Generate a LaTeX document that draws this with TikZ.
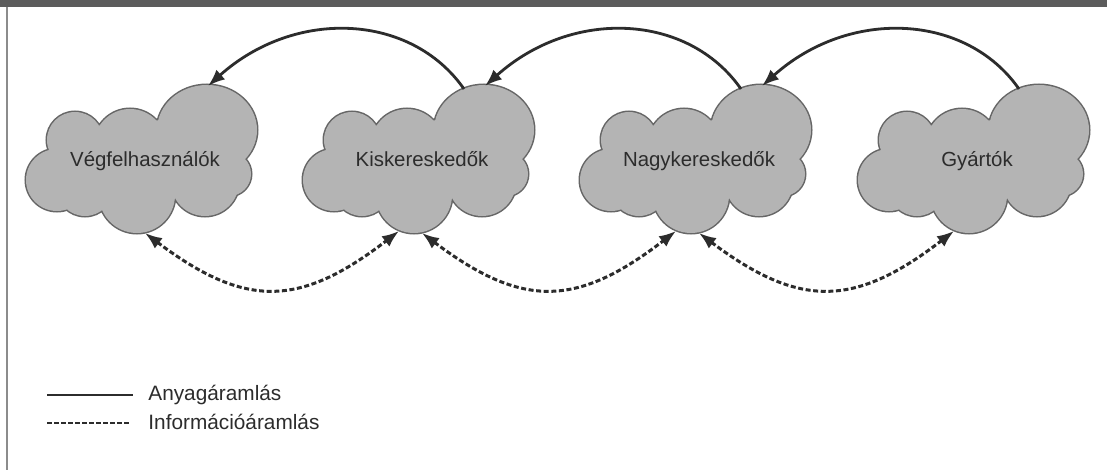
\documentclass[tikz,border=0pt]{standalone}
\usepackage{fontspec}
\setmainfont{Liberation Sans}
\usetikzlibrary{arrows.meta}
\definecolor{cloudfill}{HTML}{B4B4B4}
\definecolor{cloudline}{HTML}{666666}
\definecolor{ink}{HTML}{2C2C2C}
\definecolor{barcol}{HTML}{5C5C5C}
\definecolor{framecol}{HTML}{8C8C8C}
\newcommand{\cloudpuffs}{(62,-30) ellipse [x radius=50, y radius=45]
  (-70,-20) circle [radius=28]
  (-15,-15) circle [radius=36]
  (-88,20) circle [radius=31]
  (-60,28) circle [radius=28]
  (-8,35) circle [radius=38]
  (60,22) circle [radius=34]
  (84,14) circle [radius=22]
  (0,0) ellipse [x radius=90, y radius=40]}
\tikzset{
  lbl/.style={font=\fontsize{10.2}{12}\selectfont, text=ink, inner sep=0pt, anchor=base},
  legtext/.style={font=\fontsize{10.4}{12}\selectfont, text=ink, inner sep=0pt, anchor=base west},
  flowarrow/.style={draw=ink, line width=1.4pt, -{Latex[length=8.5pt,width=6.5pt]}},
  infoarrow/.style={draw=ink, line width=1.5pt, dash pattern=on 2.5pt off 1.3pt,
    {Latex[length=8.5pt,width=6.5pt]}-{Latex[length=8.5pt,width=6.5pt]}},
  legsolid/.style={draw=ink, line width=1.3pt},
  legdash/.style={draw=ink, line width=1.3pt, dash pattern=on 2.3pt off 1.2pt},
  cloudy/.pic={
    \draw[cloudline, line width=1.5pt] \cloudpuffs;
    \fill[cloudfill] \cloudpuffs;
    \coordinate (-out) at (42,-71);
    \coordinate (-in) at (63,-74);
    \coordinate (-bot) at (0,73);
    \coordinate (-bot2) at (-23,71);
    \node[lbl] (-label) at (0,7) {#1};
  }
}
\begin{document}
\begin{tikzpicture}[x=0.5pt, y=-0.5pt]
\useasboundingbox (0,0) rectangle (1107,470);
\fill[white] (0,0) rectangle (1107,470);
\fill[barcol] (0,0) rectangle (1107,7.5);
\draw[framecol, line width=1pt] (7,7.5) -- (7,470);

\pic (veg) at (145,160) {cloudy=Végfelhasználók};
\pic (kis) at (422,160) {cloudy=Kiskereskedők};
\pic (nagy) at (699,160) {cloudy=Nagykereskedők};
\pic (gy) at (977,160) {cloudy=Gyártók};

\draw[flowarrow] (kis-out) .. controls +(-53,-76) and +(87,-78) .. (veg-in);
\draw[flowarrow] (nagy-out) .. controls +(-53,-76) and +(87,-78) .. (kis-in);
\draw[flowarrow] (gy-out) .. controls +(-53,-76) and +(87,-78) .. (nagy-in);

\draw[infoarrow] (veg-bot) .. controls +(100,75) and +(-100,77) .. (kis-bot2);
\draw[infoarrow] (kis-bot) .. controls +(100,75) and +(-100,77) .. (nagy-bot2);
\draw[infoarrow] (nagy-bot) .. controls +(100,75) and +(-100,77) .. (gy-bot2);

\coordinate (l1a) at (47,395);
\coordinate (l1b) at (133,395);
\coordinate (l2a) at (47,423);
\coordinate (l2b) at (129,423);
\draw[legsolid] (l1a) -- (l1b);
\draw[legdash] (l2a) -- (l2b);
\node[legtext] (t1) at (148,400) {Anyagáramlás};
\node[legtext] (t2) at (148,429) {Információáramlás};
\end{tikzpicture}
\end{document}
